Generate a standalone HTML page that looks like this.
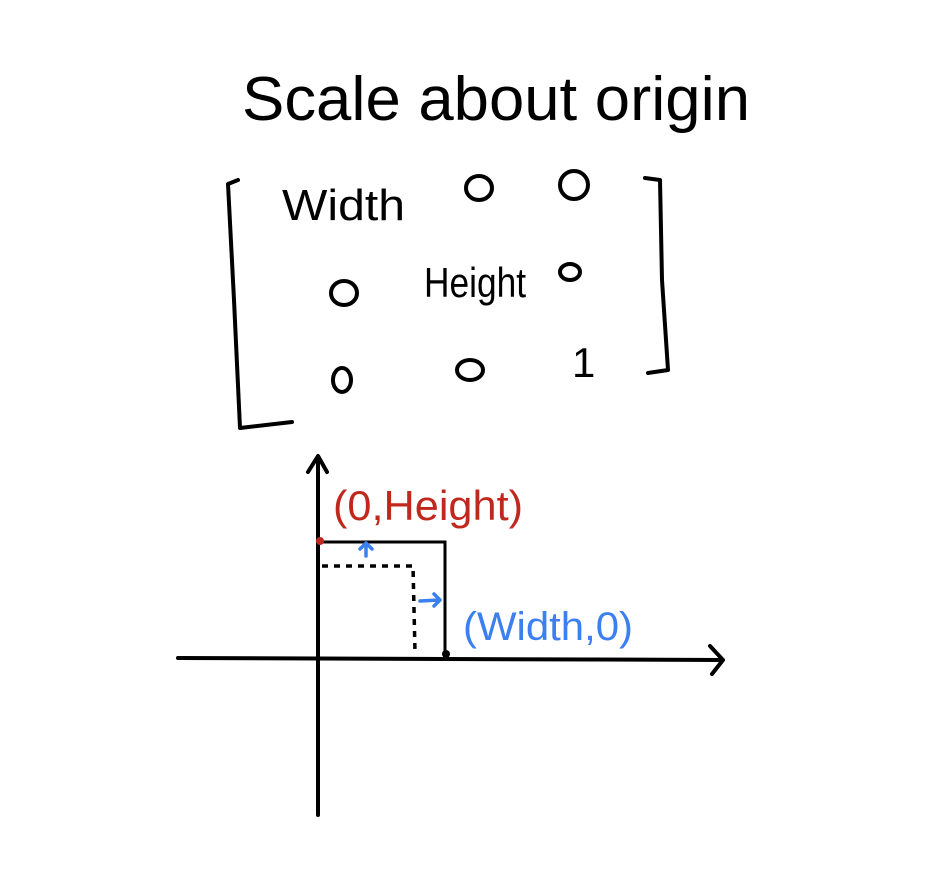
<!DOCTYPE html>
<html>
<head>
<meta charset="utf-8">
<style>
  html,body{margin:0;padding:0;background:#fff;}
  svg{display:block;}
  text{font-family:"Liberation Sans",sans-serif;}
</style>
</head>
<body>
<svg width="930" height="879" viewBox="0 0 930 879">
  <rect width="930" height="879" fill="#fff"/>
  <text x="242" y="120" font-size="62" textLength="508" lengthAdjust="spacingAndGlyphs" fill="#000">Scale about origin</text>

  <g fill="none" stroke="#000" stroke-width="4" stroke-linecap="round" stroke-linejoin="round">
    <path d="M238,180 L228,184 L234,300 L240,428 L292,422"/>
    <path d="M645,178 L660,180 L662,280 L668,370 L648,373"/>
  </g>

  <g fill="#000">
    <text x="282" y="220" font-size="44" textLength="123" lengthAdjust="spacingAndGlyphs">Width</text>
    <text x="424" y="297" font-size="42" textLength="102" lengthAdjust="spacingAndGlyphs">Height</text>
    <text x="572" y="377" font-size="42">1</text>
  </g>
  <g fill="none" stroke="#000" stroke-width="4">
    <ellipse cx="479" cy="188" rx="13" ry="12"/>
    <ellipse cx="574" cy="185" rx="14" ry="14"/>
    <ellipse cx="344" cy="293" rx="13" ry="12"/>
    <ellipse cx="570" cy="272" rx="10" ry="8"/>
    <ellipse cx="342" cy="380" rx="9" ry="12"/>
    <ellipse cx="470" cy="370" rx="13" ry="10"/>
  </g>

  <g fill="none" stroke="#000" stroke-width="4" stroke-linecap="round" stroke-linejoin="round">
    <path d="M318,462 L318,815"/>
    <path d="M308,472 L318,456 L327,472"/>
    <path d="M178,658 L722,660"/>
    <path d="M710,646 L723,660 L712,674"/>
  </g>

  <path d="M318,542 L445,542 L445,658" fill="none" stroke="#000" stroke-width="3"/>
  <path d="M322,566 L413,566 L415,652" fill="none" stroke="#000" stroke-width="3.5" stroke-dasharray="6,6"/>

  <g fill="none" stroke="#3b7ff0" stroke-width="3.5" stroke-linecap="round" stroke-linejoin="round">
    <path d="M366,556 L366,544 M360,549 L366,543 L372,549"/>
    <path d="M420,601 L440,600 M434,594 L440,600 L434,606"/>
  </g>

  <circle cx="320" cy="541" r="4" fill="#c0281e"/>
  <circle cx="446" cy="654" r="4" fill="#000"/>

  <text x="333" y="520" font-size="42" fill="#c0281e" textLength="190" lengthAdjust="spacingAndGlyphs">(0,Height)</text>
  <text x="463" y="640" font-size="40" fill="#3b7ff0" textLength="170" lengthAdjust="spacingAndGlyphs">(Width,0)</text>
</svg>
</body>
</html>
